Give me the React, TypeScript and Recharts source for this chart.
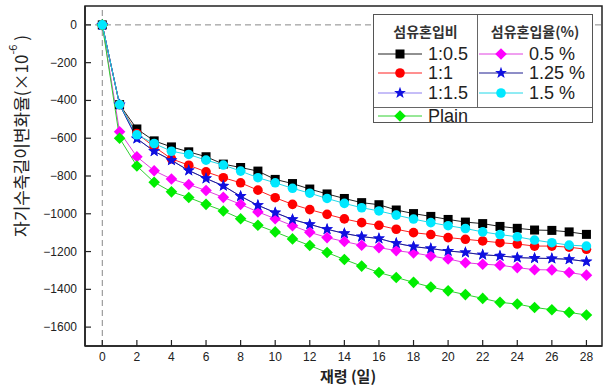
import React from "react";
import {
  LineChart,
  Line,
  XAxis,
  YAxis,
  ReferenceLine,
  ReferenceArea,
} from "recharts";

const days = [0, 1, 2, 3, 4, 5, 6, 7, 8, 9, 10, 11, 12, 13, 14, 15, 16, 17, 18, 19, 20, 21, 22, 23, 24, 25, 26, 27, 28];

// 섬유혼입비
const ratio05 = [0, -422, -551, -614, -646, -672, -698, -737, -755, -774, -818, -840, -869, -895, -919, -941, -952, -980, -999, -1014, -1030, -1044, -1052, -1067, -1077, -1086, -1088, -1096, -1109];
const ratio1 = [0, -422, -575, -645, -709, -743, -778, -809, -836, -875, -915, -950, -978, -1003, -1027, -1047, -1061, -1082, -1100, -1110, -1126, -1135, -1144, -1153, -1160, -1171, -1171, -1177, -1188];
const ratio15 = [0, -422, -602, -669, -717, -771, -813, -852, -907, -955, -994, -1030, -1056, -1082, -1104, -1121, -1131, -1156, -1174, -1184, -1197, -1205, -1217, -1223, -1232, -1235, -1237, -1241, -1253];
// 섬유혼입율(%)
const vol05 = [0, -566, -698, -772, -816, -845, -877, -913, -950, -990, -1026, -1063, -1098, -1126, -1147, -1167, -1179, -1195, -1207, -1223, -1239, -1259, -1267, -1272, -1285, -1296, -1297, -1311, -1325];
const vol125 = ratio15; // same specimen, the markers overlap in the plot
const vol15 = [0, -422, -582, -628, -669, -686, -716, -742, -774, -809, -836, -865, -891, -919, -945, -968, -985, -1007, -1028, -1047, -1063, -1078, -1096, -1110, -1122, -1139, -1153, -1166, -1171];
const plain = [0, -600, -747, -833, -884, -914, -950, -985, -1026, -1061, -1096, -1133, -1168, -1205, -1242, -1277, -1311, -1337, -1363, -1388, -1408, -1428, -1448, -1469, -1478, -1496, -1508, -1522, -1536];

const xTicks = [0, 2, 4, 6, 8, 10, 12, 14, 16, 18, 20, 22, 24, 26, 28];
const yTicks = [0, -200, -400, -600, -800, -1000, -1200, -1400, -1600];

const FONT = "'Liberation Sans', Arial, 'Noto Sans CJK KR', sans-serif";
const KFONT = "'Noto Sans CJK KR', 'Liberation Sans', sans-serif";

type Shape = "square" | "circle" | "star" | "diamond";

function starPoints(cx: number, cy: number, ro: number, ri: number) {
  const pts: string[] = [];
  for (let i = 0; i < 10; i++) {
    const r = i % 2 === 0 ? ro : ri;
    const a = -Math.PI / 2 + (i * Math.PI) / 5;
    pts.push(`${cx + r * Math.cos(a)},${cy + r * Math.sin(a)}`);
  }
  return pts.join(" ");
}

function Marker({ shape, cx, cy, color }: { shape: Shape; cx: number; cy: number; color: string }) {
  if (shape === "square") return <rect x={cx - 4.5} y={cy - 4.5} width={9} height={9} fill={color} />;
  if (shape === "circle") return <circle cx={cx} cy={cy} r={4.8} fill={color} />;
  if (shape === "star") return <polygon points={starPoints(cx, cy, 6.2, 2.6)} fill={color} />;
  return <polygon points={`${cx},${cy - 5.8} ${cx + 5.8},${cy} ${cx},${cy + 5.8} ${cx - 5.8},${cy}`} fill={color} />;
}

function makeDot(shape: Shape, color: string) {
  return (props: any) => {
    const { cx, cy, index } = props;
    if (cx == null || cy == null) return <g key={index} />;
    return <Marker key={index} shape={shape} cx={cx} cy={cy} color={color} />;
  };
}

const series = [
  { key: "r05", name: "1:0.5", data: ratio05, line: "#222222", marker: "#000000", shape: "square" as Shape },
  { key: "r1", name: "1:1", data: ratio1, line: "#ff2020", marker: "#ff0000", shape: "circle" as Shape },
  { key: "r15", name: "1:1.5", data: ratio15, line: "#8c7cf0", marker: "#1010e0", shape: "star" as Shape },
  { key: "v05", name: "0.5 %", data: vol05, line: "#e040e0", marker: "#ff00ff", shape: "diamond" as Shape },
  { key: "v125", name: "1.25 %", data: vol125, line: "#1c1c90", marker: "#1010e0", shape: "star" as Shape },
  { key: "pl", name: "Plain", data: plain, line: "#30d030", marker: "#00ee00", shape: "diamond" as Shape },
  { key: "v15", name: "1.5 %", data: vol15, line: "#20d8e8", marker: "#00e8ff", shape: "circle" as Shape },
];

const rows = days.map((d, i) => {
  const r: any = { day: d };
  series.forEach((s) => (r[s.key] = s.data[i]));
  return r;
});

function XTick(props: any) {
  const { x, y, payload } = props;
  return (
    <g>
      <line x1={x} y1={y} x2={x} y2={y - 6} stroke="#222" strokeWidth={1.2} />
      <text x={x} y={y + 15} textAnchor="middle" fontSize={12} fontFamily={FONT} fill="#222">
        {payload.value}
      </text>
    </g>
  );
}

function YTick(props: any) {
  const { x, y, payload } = props;
  const label = String(payload.value).replace("-", "\u2212");
  return (
    <g>
      <line x1={x} y1={y} x2={x + 6} y2={y} stroke="#222" strokeWidth={1.2} />
      <text x={x - 8} y={y + 4} textAnchor="end" fontSize={12} fontFamily={FONT} fill="#222">
        {label}
      </text>
    </g>
  );
}

function LegendItem({ s, left, top }: { s: (typeof series)[number]; left: number; top: number }) {
  return (
    <div style={{ position: "absolute", left, top, height: 20, display: "flex", alignItems: "center" }}>
      <svg width={44} height={14}>
        <line x1={0} y1={7} x2={44} y2={7} stroke={s.line} strokeWidth={1} />
        <Marker shape={s.shape} cx={22} cy={7} color={s.marker} />
      </svg>
      <span style={{ marginLeft: 6, fontSize: 18, fontFamily: FONT, color: "#222", whiteSpace: "nowrap" }}>{s.name}</span>
    </div>
  );
}

function Legend() {
  const get = (k: string) => series.find((s) => s.key === k)!;
  return (
    <div
      style={{
        position: "absolute",
        left: 373,
        top: 14,
        width: 218,
        height: 107,
        border: "1px solid #555",
        background: "#fff",
      }}
    >
      <div style={{ position: "absolute", left: 103, top: 0, width: 1, height: 92, background: "#666" }} />
      <div style={{ position: "absolute", left: 0, top: 92, width: 218, height: 1, background: "#666" }} />
      <div style={{ position: "absolute", left: 0, top: 6, width: 103, textAlign: "center", fontSize: 14, fontWeight: 700, fontFamily: KFONT, color: "#333" }}>
        섬유혼입비
      </div>
      <div style={{ position: "absolute", left: 104, top: 6, width: 114, textAlign: "center", fontSize: 14, fontWeight: 700, fontFamily: KFONT, color: "#333" }}>
        섬유혼입율(%)
      </div>
      <LegendItem s={get("r05")} left={4} top={29} />
      <LegendItem s={get("r1")} left={4} top={48} />
      <LegendItem s={get("r15")} left={4} top={68} />
      <LegendItem s={get("v05")} left={105} top={29} />
      <LegendItem s={get("v125")} left={105} top={48} />
      <LegendItem s={get("v15")} left={105} top={68} />
      <LegendItem s={get("pl")} left={4} top={91} />
    </div>
  );
}

export default function App() {
  return (
    <div style={{ position: "relative", width: 610, height: 388, background: "#fff" }}>
      <style>{`body{margin:0}`}</style>
      <LineChart width={610} height={388} data={rows} margin={{ top: 6, right: 8, left: 0, bottom: 0 }}>
        <XAxis
          dataKey="day"
          type="number"
          domain={[-1, 28.9]}
          ticks={xTicks}
          allowDataOverflow
          interval={0}
          tickSize={0}
          tickMargin={0}
          tickLine={false}
          axisLine={{ stroke: "#222", strokeWidth: 1.5 }}
          tick={(p: any) => <XTick {...p} />}
          height={42}
          label={{
            content: () => (
              <text x={348} y={382} textAnchor="middle" fontSize={15} fontWeight={700} fontFamily={KFONT} fill="#222">
                재령 (일)
              </text>
            ),
          }}
        />
        <YAxis
          type="number"
          domain={[-1700, 100]}
          ticks={yTicks}
          allowDataOverflow
          interval={0}
          tickSize={0}
          tickMargin={0}
          tickLine={false}
          axisLine={{ stroke: "#222", strokeWidth: 1.5 }}
          tick={(p: any) => <YTick {...p} />}
          width={85}
          label={{
            content: () => (
              <text
                x={20}
                y={136}
                transform="rotate(-90, 20, 136)"
                textAnchor="middle"
                dominantBaseline="central"
                fontSize={17}
                fontFamily={KFONT}
                fill="#222"
              >
                자기수축길이변화율(×10
                <tspan baselineShift="super" fontSize={11}>-6</tspan>
                <tspan> )</tspan>
              </text>
            ),
          }}
        />
        <ReferenceArea x1={-1} x2={28.9} y1={-1700} y2={100} fill="none" stroke="#222" strokeWidth={1.5} ifOverflow="visible" />
        <ReferenceLine y={0} stroke="#888" strokeDasharray="6 4" strokeWidth={1} />
        <ReferenceLine x={0} stroke="#888" strokeDasharray="6 4" strokeWidth={1} />
        {series.map((s) => (
          <Line
            key={s.key}
            dataKey={s.key}
            name={s.name}
            type="linear"
            stroke={s.line}
            strokeWidth={1}
            dot={makeDot(s.shape, s.marker)}
            activeDot={false}
            isAnimationActive={false}
          />
        ))}
      </LineChart>
      <Legend />
    </div>
  );
}
